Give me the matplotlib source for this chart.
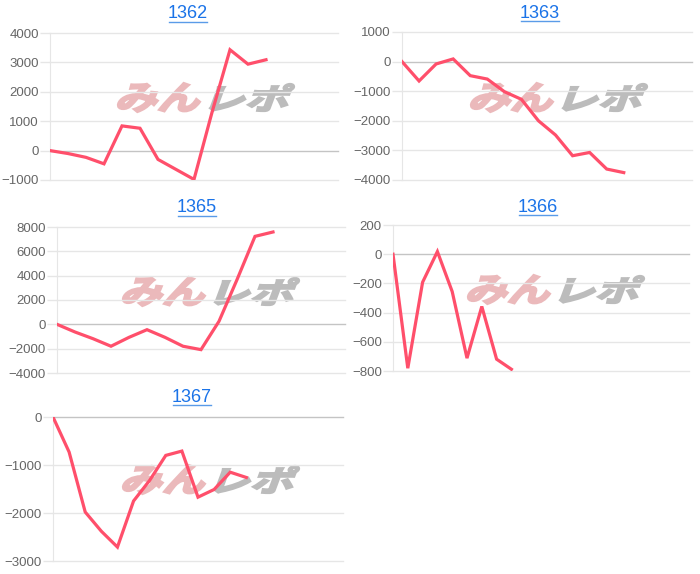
import matplotlib
matplotlib.use("Agg")
import matplotlib.pyplot as plt
from matplotlib.textpath import TextPath
from matplotlib.font_manager import FontProperties
from matplotlib.patches import PathPatch
from matplotlib.transforms import Affine2D

# ---- data ----
titles = ["1362", "1363", "1365", "1366", "1367"]

vals_1362 = [0, -100, -230, -450, 840, 760, -300, -640, -980, 1300, 3430, 2940, 3090]
vals_1363 = [0, -655, -80, 90, -475, -590, -1015, -1275, -2000, -2480, -3180, -3070, -3630, -3750]
vals_1365 = [0, -630, -1180, -1800, -1070, -440, -1070, -1800, -2080, 250, 3670, 7230, 7590]
vals_1366 = [0, -781, -192, 18, -256, -712, -358, -719, -788]
vals_1367 = [0, -730, -1980, -2380, -2710, -1750, -1320, -800, -710, -1670, -1510, -1150, -1260]

series = [vals_1362, vals_1363, vals_1365, vals_1366, vals_1367]
n_slots = [17, 18, 17, 21, 19]
y_ticks = [
    [-1000, 0, 1000, 2000, 3000, 4000],
    [-4000, -3000, -2000, -1000, 0, 1000],
    [-4000, -2000, 0, 2000, 4000, 6000, 8000],
    [-800, -600, -400, -200, 0, 200],
    [-3000, -2000, -1000, 0],
]

# pixel boxes (left, top, right, bottom) and title positions
W, H = 700, 574
boxes = [(50, 33, 338, 180), (402, 32, 692, 180), (57, 227, 345, 373),
         (393, 225, 689, 371), (53, 417, 343, 561)]
title_pos = [(188, 14), (540, 13), (197, 208), (538, 207), (192, 397)]
logo_pos = [(117, 82), (470, 82), (122, 276), (467, 274), (122, 464)]

LINE = "#ff4f6b"
GRID = "#e6e6e6"
ZERO = "#c4c4c4"
TICK = "#666666"
TITLE = "#1a73e8"

plt.rcParams["font.family"] = ["Liberation Sans", "DejaVu Sans"]

fig = plt.figure(figsize=(W / 100, H / 100), dpi=100)
fig.patch.set_facecolor("white")
px = Affine2D().scale(1 / W, 1 / H) + fig.transFigure

jp = FontProperties(family="Noto Sans CJK JP", weight="bold")


def add_word(text, box, color):
    # stretch a slanted text path into a pixel box (image coords)
    x0, y0, x1, y1 = box
    p = TextPath((0, 0), text, size=40, prop=jp)
    p = Affine2D().skew_deg(14, 0).transform_path(p)
    ext = p.get_extents()
    t = (Affine2D().translate(-ext.x0, -ext.y0)
         .scale((x1 - x0) / ext.width, (y1 - y0) / ext.height)
         .translate(x0, H - y1))
    fig.add_artist(PathPatch(t.transform_path(p), facecolor=color,
                             edgecolor=color, lw=1.6, transform=px, zorder=-1))


def add_logo(x, y):
    add_word("みん", (x + 1, y + 1, x + 83, y + 30), "#ebb9bb")
    add_word("レポ", (x + 93, y + 2, x + 177, y + 29), "#bcbcbc")


for k in range(5):
    l, t, r, b = boxes[k]
    ax = fig.add_axes([l / W, 1 - b / H, (r - l) / W, (b - t) / H])
    ax.set_facecolor("none")
    vals = series[k]
    ax.plot(range(len(vals)), vals, color=LINE, lw=2.3, solid_joinstyle="miter", zorder=3)
    ax.set_xlim(0, n_slots[k] - 1)
    ax.set_ylim(y_ticks[k][0], y_ticks[k][-1])
    ax.set_yticks(y_ticks[k])
    ax.set_xticks([])
    for yv in y_ticks[k]:
        ax.axhline(yv, color=ZERO if yv == 0 else GRID, lw=1, zorder=1, clip_on=False)
    for s in ["top", "right", "bottom"]:
        ax.spines[s].set_visible(False)
    ax.spines["left"].set_color(GRID)
    ax.tick_params(axis="y", length=7, width=1, color=GRID, labelcolor=TICK,
                   labelsize=9.5, pad=1)
    tx, ty = title_pos[k]
    fig.text(tx / W, 1 - ty / H, titles[k], color=TITLE, fontsize=13,
             ha="center", va="center")
    # underline
    fig.add_artist(plt.Line2D([(tx - 19) / W, (tx + 19) / W],
                              [1 - (ty + 8) / H] * 2, color="#5a9be8", lw=1))
    add_logo(*logo_pos[k])

fig.savefig("out.png", dpi=100)
